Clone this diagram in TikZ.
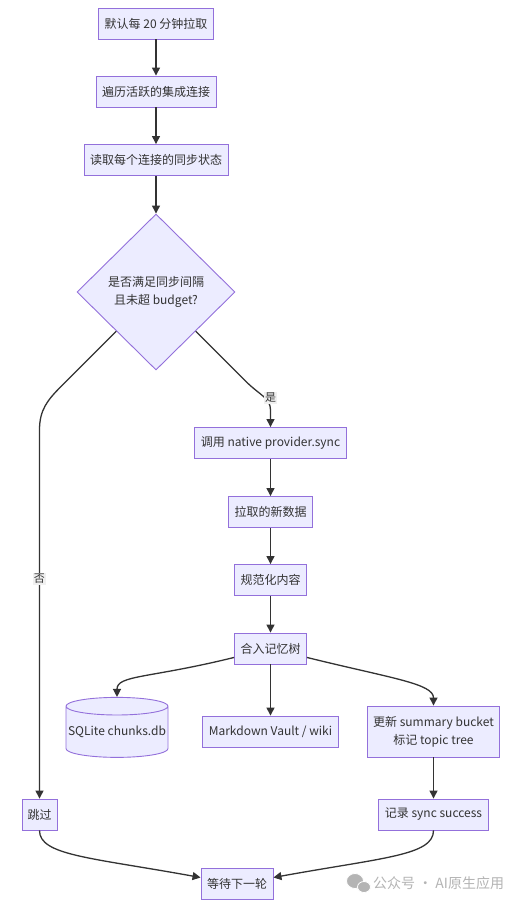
\documentclass[tikz,border=0pt]{standalone}
\usepackage{fontspec}
\setmainfont{Noto Sans CJK SC}
\usetikzlibrary{shapes.geometric,arrows.meta,calc}
\definecolor{boxfill}{HTML}{ECECFF}
\definecolor{boxline}{HTML}{9370DB}
\definecolor{edgec}{HTML}{333333}
\definecolor{wmgray}{HTML}{B4B4B4}
\begin{document}
\begin{tikzpicture}[x=1pt,y=-1pt,
  box/.style={draw=boxline, fill=boxfill, line width=0.9pt, font=\fontsize{12}{18}\selectfont, text=edgec, inner xsep=6pt, inner ysep=0pt, minimum height=31pt, align=center},
  link/.style={draw=edgec, line width=1.3pt, -{Triangle[length=8pt,width=8pt]}},
  lbl/.style={fill=white!88!gray, font=\fontsize{11}{13}\selectfont, text=edgec, inner sep=1pt}]
\path[use as bounding box] (0,0) rectangle (527,906);
\fill[white] (0,0) rectangle (527,906);

\node[box, minimum width=114pt] (n1) at (156,23.5) {默认每 20 分钟拉取};
\node[box, minimum width=118pt] (n2) at (156,91.5) {遍历活跃的集成连接};
\node[box, minimum width=142pt] (n3) at (156,160) {读取每个连接的同步状态};
\node[diamond, draw=boxline, fill=boxfill, line width=0.9pt, minimum width=158pt, minimum height=156pt, inner sep=0pt, align=center, font=\fontsize{12}{18}\selectfont, text=edgec] (d) at (156,292) {是否满足同步间隔\\且未超 budget?};
\node[box, minimum width=146pt] (n4) at (270.5,443) {调用 native provider.sync};
\node[box, minimum width=83pt] (n5) at (270.5,512) {拉取的新数据};
\node[box, minimum width=71pt] (n6) at (270.5,580) {规范化内容};
\node[box, minimum width=70pt] (n7) at (270.5,648.5) {合入记忆树};
\node[cylinder, shape border rotate=90, aspect=0.18, draw=boxline, fill=boxfill, line width=0.9pt, minimum width=102pt, minimum height=60pt, inner sep=0pt, font=\fontsize{12}{18}\selectfont, text=edgec] (db) at (117,732) {SQLite chunks.db};
\node[box, minimum width=129pt] (md) at (270.5,731.5) {Markdown Vault / wiki};
\node[box, minimum width=125pt, minimum height=51pt] (sum) at (433.5,731.5) {更新 summary bucket\\标记 topic tree};
\node[box, minimum width=35pt, inner xsep=2pt] (skip) at (39.5,814.5) {跳过};
\node[box, minimum width=104pt] (rec) at (433.5,814.5) {记录 sync success};
\node[box, minimum width=70pt] (wait) at (237,883.5) {等待下一轮};

\draw[link] (n1) -- (n2);
\draw[link] (n2) -- (n3);
\draw[link] (n3) -- (d);
\coordinate (dl) at ($(d.west)!0.5!(d.south)$);
\coordinate (dr) at ($(d.east)!0.5!(d.south)$);
\draw[link] (dr) -- ++(50,50) .. controls +(14,14) and +(0,-12) .. (270.5,410) -- (n4.north);
\node[lbl] (yes) at (270.5,398) {是};
\draw[link] (dl) -- ++(-55,55) .. controls +(-14,14) and +(0,-20) .. (39.5,430) -- (skip.north);
\node[lbl] (no) at (39.5,579) {否};
\draw[link] (n4) -- (n5);
\draw[link] (n5) -- (n6);
\draw[link] (n6) -- (n7);
\draw[link] (n7) -- (md);
\draw[link] ([yshift=7pt]n7.south west) .. controls +(-85,21) and +(0,-22) .. (db.north);
\draw[link] ([yshift=7pt]n7.south east) .. controls +(85,21) and +(0,-22) .. (sum.north);
\draw[link] (sum) -- (rec);
\draw[link] (skip.south) .. controls +(0,25) and +(-110,-20) .. ([yshift=6pt]wait.west);
\draw[link] (rec.south) .. controls +(0,25) and +(110,-20) .. ([yshift=6pt]wait.east);

% watermark
\fill[wmgray, draw=white, line width=0.8pt] (355,881) ellipse (8.5pt and 7.5pt);
\fill[wmgray, draw=white, line width=0.8pt] (364,887) ellipse (6.5pt and 5.5pt);
\node[text=wmgray, font=\fontsize{14}{16}\selectfont, anchor=west, inner sep=0pt] (wm) at (373,883) {公众号 · AI原生应用};
\end{tikzpicture}
\end{document}
